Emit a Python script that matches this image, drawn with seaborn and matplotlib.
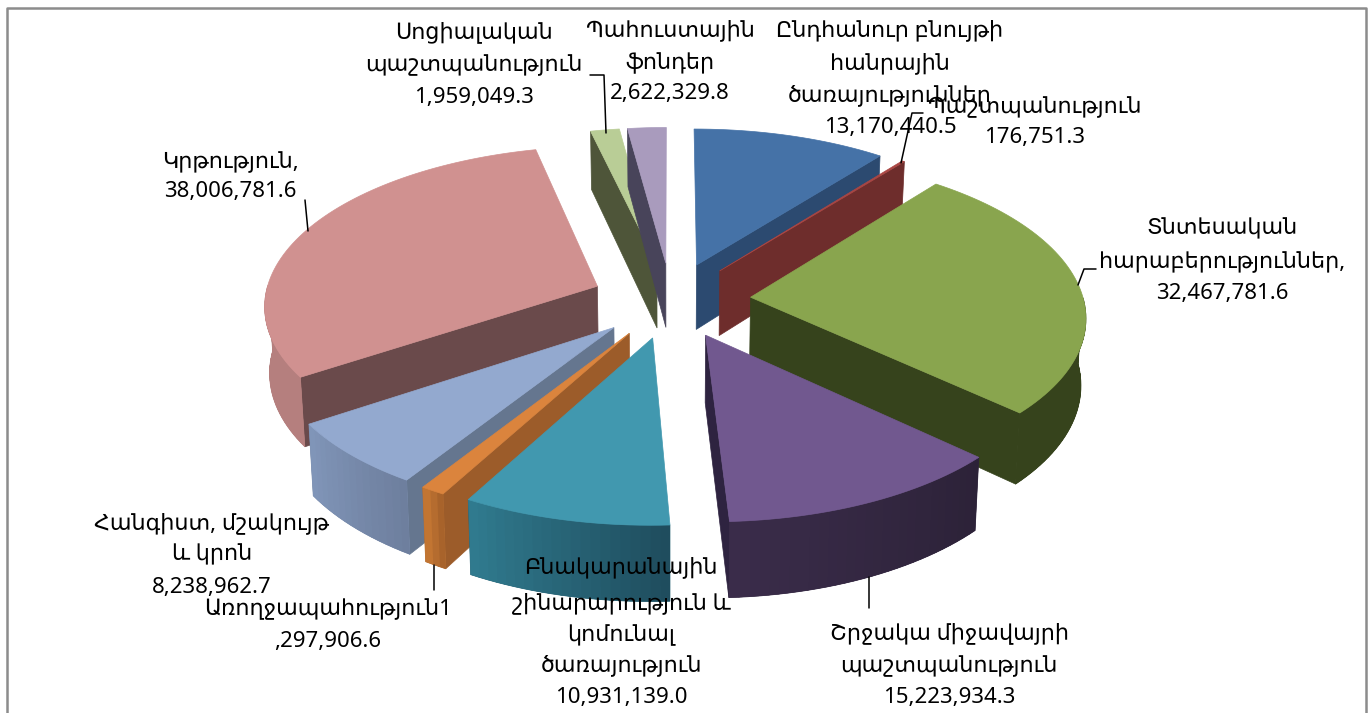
import numpy as np
import matplotlib
matplotlib.use("Agg")
import matplotlib.pyplot as plt
from matplotlib.colors import to_rgb
import seaborn as sns

# ---- data, clockwise from 12 o'clock ----
categories = ["Ընդհանուր բնույթի\nհանրային\nծառայություններ", "Պաշտպանություն",
              "Տնտեսական\nհարաբերություններ,", "Շրջակա միջավայրի\nպաշտպանություն",
              "Բնակարանային\nշինարարություն և\nկոմունալ\nծառայություն",
              "Առողջապահություն1", "Հանգիստ, մշակույթ\nև կրոն", "Կրթություն,",
              "Սոցիալական\nպաշտպանություն", "Պահուստային\nֆոնդեր"]
values = [13170440.5, 176751.3, 32467781.6, 15223934.3, 10931139.0,
          1297906.6, 8238962.7, 38006781.6, 1959049.3, 2622329.8]
value_labels = ["13,170,440.5", "176,751.3", "32,467,781.6", "15,223,934.3", "10,931,139.0",
                ",297,906.6", "8,238,962.7", "38,006,781.6", "1,959,049.3", "2,622,329.8"]
top_colors = ["#4572A7", "#AA4643", "#89A54E", "#71588F", "#4198AF",
              "#DB843D", "#93A9CF", "#D09190", "#B9CD96", "#A99BBD"]
wall_colors = ["#2C4A70", "#6E2D2C", "#36431C", "#2E2340", "#2E6E80",
               "#9C5C2A", "#65768F", "#6A4A4B", "#4E5539", "#48445A"]
arc_from = ["#2C4A70", "#6E2D2C", "#36431C", "#2C2238", "#1F4D5E",
            "#A8632B", "#6E7F9E", "#B57F7E", "#4E5539", "#48445A"]
arc_to = ["#2C4A70", "#6E2D2C", "#36431C", "#3A2C4A", "#307A8E",
          "#C27532", "#8095B8", "#B57F7E", "#4E5539", "#48445A"]
draw_order = [8, 9, 0, 1, 7, 2, 6, 3, 5, 4]

label_x = [890, 1035, 1222, 949, 621, 328, 212, 230, 474, 670]
label_y = [[30, 63, 95, 127], [107, 138], [229, 262, 294], [633, 666, 698],
           [567, 603, 635, 665, 698], [609, 641], [523, 555, 588], [162, 192],
           [32, 65, 97], [30, 63, 94]]

sns.set_theme(style="white")
palette = sns.color_palette(top_colors)
FONT = ["Noto Sans", "DejaVu Sans"]
plt.rcParams["font.family"] = FONT

fig, ax = plt.subplots(figsize=(13.69, 7.13), dpi=100)
ax.set_position([0, 0, 1, 1])
ax.set_xlim(0, 1369)
ax.set_ylim(713, 0)
ax.axis("off")

# page frame, open at the bottom
ax.plot([7, 7, 1366, 1366], [713, 8, 8, 713], color="#8C8C8C", lw=1.8, zorder=1)

# perspective projection of the pie plane
CX, CY, RX, RY, K, DEPTH, EXPLODE = 671, 300, 333, 158, 0.109, 66, 0.24


def project(u, v, z=0.0):
    w = 1 / (1 - K * v)
    shrink = 1 - 0.012 * z
    return CX + RX * u * w * shrink, CY + RY * v * w + DEPTH * z * w


def unit(t):
    return np.sin(t), -np.cos(t)


def poly(xs, ys, color, z):
    return ax.fill(xs, ys, facecolor=color, edgecolor=color, lw=0.5, zorder=z)[0]


fractions = np.array(values) / np.sum(values)
edges = np.concatenate([[0], np.cumsum(fractions)]) * 2 * np.pi

z = 2.0
for i in draw_order:
    t0, t1 = edges[i], edges[i + 1]
    mid = (t0 + t1) / 2
    ax0, ay0 = np.array(unit(mid)) * EXPLODE
    ts = np.linspace(t0, t1, max(4, int((t1 - t0) * 40)))
    au, av = np.sin(ts) + ax0, -np.cos(ts) + ay0

    # radial walls, culled by outward normal
    for edge, normal, idx in ((t0, t0 - np.pi / 2, 0), (t1, t1 + np.pi / 2, -1)):
        if -np.cos(normal) > 0:
            pu, pv = [ax0, au[idx]], [ay0, av[idx]]
            xt, yt = project(np.array(pu), np.array(pv), 0)
            xb, yb = project(np.array(pu), np.array(pv), 1)
            poly(np.r_[xt, xb[::-1]], np.r_[yt, yb[::-1]], wall_colors[i], z)
    z += 0.01
    # outer wall: one base shape, gradient strips clipped to it
    front = -np.cos(ts) > -0.02
    if front.sum() >= 2:
        uu, vv = au[front], av[front]
        xt, yt = project(uu, vv, 0)
        xb, yb = project(uu, vv, 1)
        c0, c1 = np.array(to_rgb(arc_from[i])), np.array(to_rgb(arc_to[i]))
        base = poly(np.r_[xt, xb[::-1]], np.r_[yt, yb[::-1]], tuple((c0 + c1) / 2), z)
        for j in range(len(uu) - 1):
            frac = j / max(1, len(uu) - 2)
            col = tuple(c0 + (c1 - c0) * frac)
            strip = ax.fill(np.r_[xt[j:j + 2], xb[j:j + 2][::-1]],
                            np.r_[yt[j:j + 2], yb[j:j + 2][::-1]],
                            facecolor=col, edgecolor=col, lw=1.5, zorder=z + 0.001)[0]
            strip.set_clip_path(base)
    z += 0.01
    # top face
    xt, yt = project(np.r_[ax0, au], np.r_[ay0, av], 0)
    poly(xt, yt, palette[i], z)
    z += 0.01

# leader lines
leaders = [([590, 604, 606], [75, 75, 133]), ([305, 308], [200, 231]),
           ([923, 912, 901], [113, 113, 163]), ([1096, 1084, 1078], [269, 269, 285]),
           ([869, 869], [577, 608]), ([434, 434], [565, 590])]
for lx, ly in leaders:
    ax.plot(lx, ly, color="black", lw=1.1, zorder=20)

# labels
for cat, val, x, ys in zip(categories, value_labels, label_x, label_y):
    for line, y in zip(cat.split("\n") + [val], ys):
        ax.text(x, y, line, ha="center", va="center", fontsize=16,
                color="black", family=FONT, zorder=30)

fig.savefig("out.png", dpi=100)
